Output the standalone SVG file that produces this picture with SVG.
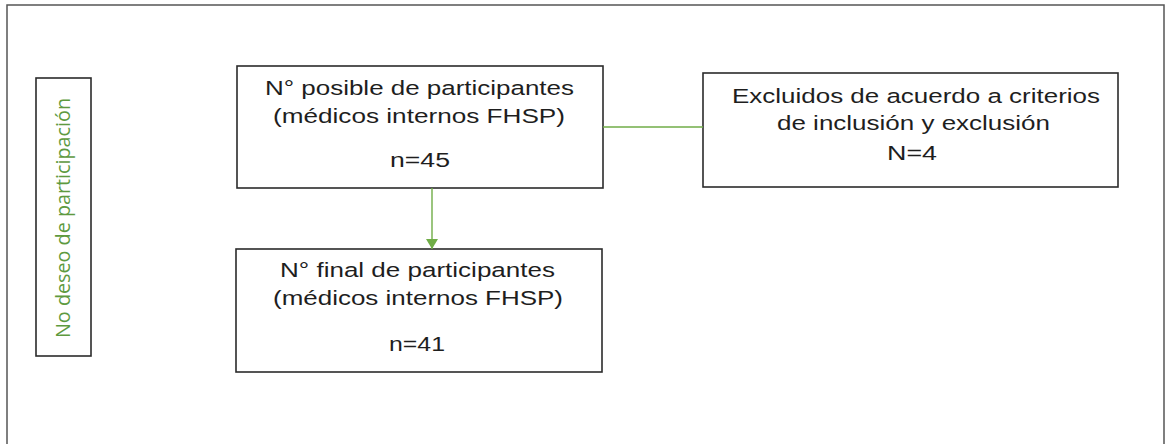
<svg xmlns="http://www.w3.org/2000/svg" width="1165" height="444" viewBox="0 0 1165 444">
<defs>
<style>
.box{fill:#fff;stroke:#2b2b2b;stroke-width:1.6}
.t{font-family:"Liberation Sans",Arial,sans-serif;font-size:20.5px;fill:#1e1e1e;text-anchor:middle}
.g{font-family:"Open Sans","Noto Sans",sans-serif;font-size:20px;fill:#5e9a3f;text-anchor:middle}
.c{stroke:#70ad47;stroke-width:1.4;fill:none}
</style>
<marker id="ah" markerWidth="10" markerHeight="12" refX="10" refY="6" orient="auto" markerUnits="userSpaceOnUse">
<path d="M0,0 L10,6 L0,12 z" fill="#70ad47"/>
</marker>
</defs>
<rect width="1165" height="444" fill="#fff"/>
<rect x="7" y="5" width="1157" height="460" fill="none" stroke="#555" stroke-width="1.5"/>
<g id="no-deseo">
<rect class="box" x="36" y="78" width="55" height="278"/>
<text class="g" transform="translate(70,218) rotate(-90)" textLength="240" lengthAdjust="spacingAndGlyphs">No deseo de participación</text>
</g>
<g id="posible">
<rect class="box" x="237" y="66" width="366" height="122"/>
<text class="t" x="419.5" y="95" textLength="309" lengthAdjust="spacingAndGlyphs">N° posible de participantes</text>
<text class="t" x="419" y="123" textLength="292" lengthAdjust="spacingAndGlyphs">(médicos internos FHSP)</text>
<text class="t" x="420" y="167" textLength="60" lengthAdjust="spacingAndGlyphs">n=45</text>
</g>
<g id="excluidos">
<rect class="box" x="703" y="73" width="415" height="114"/>
<text class="t" x="916" y="103" textLength="368" lengthAdjust="spacingAndGlyphs">Excluidos de acuerdo a criterios</text>
<text class="t" x="913.5" y="130" textLength="273" lengthAdjust="spacingAndGlyphs">de inclusión y exclusión</text>
<text class="t" x="912" y="160" textLength="50" lengthAdjust="spacingAndGlyphs">N=4</text>
</g>
<g id="final">
<rect class="box" x="236" y="249" width="366" height="123"/>
<text class="t" x="417.5" y="277" textLength="275" lengthAdjust="spacingAndGlyphs">N° final de participantes</text>
<text class="t" x="418" y="305" textLength="290" lengthAdjust="spacingAndGlyphs">(médicos internos FHSP)</text>
<text class="t" x="417" y="351" textLength="56" lengthAdjust="spacingAndGlyphs">n=41</text>
</g>
<g id="connectors">
<line class="c" x1="603" y1="127" x2="703" y2="127"/>
<line class="c" x1="432" y1="188" x2="432" y2="249" marker-end="url(#ah)"/>
</g>
</svg>
